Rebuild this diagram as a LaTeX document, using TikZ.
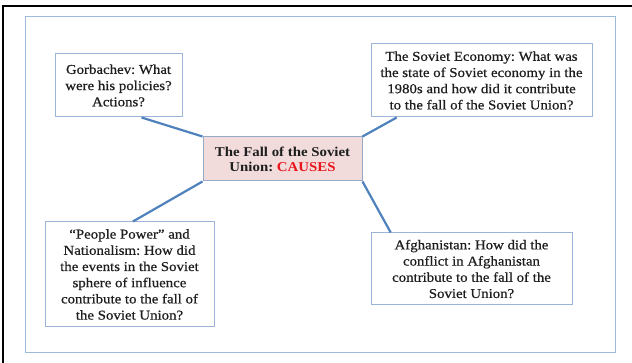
\documentclass[tikz,border=0pt]{standalone}
\usepackage{fontspec}
\setmainfont[FakeStretch=1.1,FakeBold=0.6]{Liberation Serif}
\newfontfamily\boldserif[FakeStretch=1.1]{Liberation Serif Bold}
\usetikzlibrary{calc}
\definecolor{framecol}{HTML}{9DB9DC}
\definecolor{boxcol}{HTML}{9AB5D8}
\definecolor{linkcol}{HTML}{4F81BD}
\definecolor{pinkfill}{HTML}{F2DCDB}
\definecolor{txtcol}{HTML}{1E1E1E}
\definecolor{redtxt}{HTML}{E8161C}
\tikzset{
  qbox/.style={draw=boxcol, line width=1pt, fill=white, align=center, inner sep=0pt,
    text=txtcol, font=\frenchspacing\fontsize{13.5}{16.2}\selectfont},
  link/.style={draw=linkcol, line width=2.2pt},
}
\begin{document}
\begin{tikzpicture}[x=1pt,y=-1pt]
\useasboundingbox (0,0) rectangle (632,363);
% outer black partial border
\draw[black, line width=2.2pt] (3,363) -- (3,6) -- (632,6);
% inner frame
\draw[framecol, line width=1pt] (25,17) rectangle (615,353);
% nodes
\node[qbox, minimum width=127pt, minimum height=63pt] (gorb) at (118.5,85.5)
  {Gorbachev: What\\were his policies?\\Actions?};
\node[qbox, minimum width=221pt, minimum height=73pt] (econ) at (481.5,80.5)
  {The Soviet Economy: What was\\the state of Soviet economy in the\\1980s and how did it contribute\\to the fall of the Soviet Union?};
\node[qbox, minimum width=169pt, minimum height=105pt] (people) at (129.5,274.5)
  {``People Power'' and\\Nationalism: How did\\the events in the Soviet\\sphere of influence\\contribute to the fall of\\the Soviet Union?};
\node[qbox, minimum width=201pt, minimum height=72pt] (afg) at (471.5,269)
  {Afghanistan: How did the\\conflict in Afghanistan\\contribute to the fall of the\\Soviet Union?};
\node[qbox, draw=boxcol!80!gray, fill=pinkfill, minimum width=159pt, minimum height=44pt,
  font=\frenchspacing\boldserif\fontsize{13.5}{15}\selectfont] (center) at (282.5,159)
  {The Fall of the Soviet\\Union: \textcolor{redtxt}{CAUSES}};
% connectors
\draw[link] ($(gorb.south west)!0.68!(gorb.south east)$) -- (center.north west);
\draw[link] ($(econ.south west)!0.118!(econ.south east)$) -- (center.north east);
\draw[link] (center.south west) -- ($(people.north west)!0.52!(people.north east)$);
\draw[link] (center.south east) -- ($(afg.north west)!0.10!(afg.north east)$);
\end{tikzpicture}
\end{document}
